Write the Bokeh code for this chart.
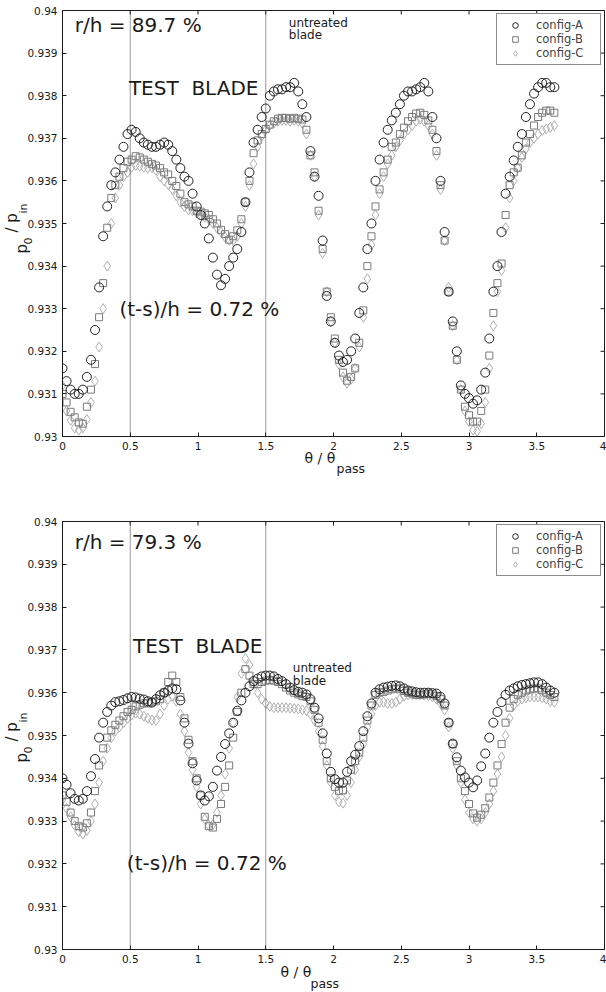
from math import pi
from bokeh.plotting import figure
from bokeh.models import (Span, Label, FixedTicker, CustomJSTickFormatter, Title,
                          Legend, LegendItem, Range1d)
from bokeh.layouts import column
from bokeh.embed import file_html
from bokeh.resources import INLINE

# ---------------- data ----------------
THETA = [0.00, 0.03, 0.06, 0.09, 0.12, 0.15, 0.18, 0.21, 0.24, 0.27,
         0.30, 0.33, 0.36, 0.39, 0.42, 0.45, 0.48, 0.51, 0.54, 0.57,
         0.60, 0.63, 0.66, 0.69, 0.72, 0.75, 0.78, 0.81, 0.84, 0.87,
         0.90, 0.93, 0.96, 0.99, 1.02, 1.05, 1.08, 1.11, 1.14, 1.17,
         1.20, 1.23, 1.26, 1.29, 1.32, 1.35, 1.38, 1.41, 1.44, 1.47,
         1.50, 1.53, 1.56, 1.59, 1.62, 1.65, 1.68, 1.71, 1.74, 1.77,
         1.80, 1.83, 1.86, 1.89, 1.92, 1.95, 1.98, 2.01, 2.04, 2.07,
         2.10, 2.13, 2.16, 2.19, 2.22, 2.25, 2.28, 2.31, 2.34, 2.37,
         2.40, 2.43, 2.46, 2.49, 2.52, 2.55, 2.58, 2.61, 2.64, 2.67,
         2.70, 2.73, 2.76, 2.79, 2.82, 2.85, 2.88, 2.91, 2.94, 2.97,
         3.00, 3.03, 3.06, 3.09, 3.12, 3.15, 3.18, 3.21, 3.24, 3.27,
         3.30, 3.33, 3.36, 3.39, 3.42, 3.45, 3.48, 3.51, 3.54, 3.57,
         3.60, 3.63]

# r/h = 89.7 %
TOP_A = [0.9316, 0.9313, 0.9311, 0.9310, 0.9310, 0.9311, 0.9314, 0.9318, 0.9325, 0.9335,
         0.9347, 0.9354, 0.9359, 0.9362, 0.9365, 0.9368, 0.9371, 0.9372, 0.93715, 0.9370,
         0.9369, 0.93685, 0.9368, 0.9368, 0.93685, 0.9369, 0.93685, 0.9367, 0.9365, 0.9363,
         0.9361, 0.9360, 0.9357, 0.9354, 0.9352, 0.9350, 0.93465, 0.9342, 0.9338, 0.93355,
         0.9337, 0.9340, 0.9342, 0.9344, 0.9348, 0.9355, 0.9362, 0.9369, 0.9372, 0.9375,
         0.9377, 0.9380, 0.9381, 0.93815, 0.93815, 0.9382, 0.9382, 0.9383, 0.9381, 0.9378,
         0.9375, 0.9367, 0.9361, 0.93565, 0.9346, 0.9333, 0.9327, 0.9322, 0.9319, 0.93175,
         0.9318, 0.9320, 0.9323, 0.9329, 0.9335, 0.9344, 0.9350, 0.9360, 0.9365, 0.9369,
         0.9372, 0.93742, 0.9376, 0.9378, 0.9380, 0.9381, 0.9381, 0.93815, 0.9382, 0.9383,
         0.9381, 0.9375, 0.9370, 0.9360, 0.9348, 0.9334, 0.9327, 0.9320, 0.9312, 0.9310,
         0.9309, 0.93077, 0.93085, 0.9311, 0.9315, 0.9323, 0.9334, 0.9340, 0.9348, 0.9357,
         0.9361, 0.93648, 0.9368, 0.9371, 0.9375, 0.9378, 0.93805, 0.9382, 0.9383, 0.9383,
         0.9382, 0.9382]
TOP_B = [0.9310, 0.9308, 0.93058, 0.93045, 0.93033, 0.9303, 0.9307, 0.9311, 0.9317, 0.9328,
         0.9336, 0.9349, 0.9356, 0.9359, 0.9361, 0.9363, 0.93645, 0.9365, 0.93658, 0.93655,
         0.9365, 0.93645, 0.9364, 0.93636, 0.9363, 0.9362, 0.93615, 0.9360, 0.93588, 0.9357,
         0.9355, 0.93545, 0.9354, 0.9353, 0.93528, 0.93524, 0.9352, 0.9351, 0.9350, 0.93485,
         0.93475, 0.93462, 0.9347, 0.93484, 0.9351, 0.9355, 0.9360, 0.93665, 0.93695, 0.9371,
         0.93722, 0.93732, 0.9374, 0.93746, 0.93748, 0.93748, 0.93746, 0.93748, 0.93746, 0.93744,
         0.9372, 0.9366, 0.9362, 0.9353, 0.9344, 0.9334, 0.9328, 0.9323, 0.9318, 0.9315,
         0.93131, 0.9314, 0.9316, 0.9322, 0.93296, 0.9340, 0.9347, 0.9354, 0.9358, 0.9362,
         0.9365, 0.9368, 0.9369, 0.9371, 0.93725, 0.9374, 0.9375, 0.93758, 0.9376, 0.93755,
         0.93742, 0.9372, 0.9367, 0.9359, 0.9346, 0.9334, 0.9326, 0.9318, 0.9311, 0.9307,
         0.9305, 0.93035, 0.93035, 0.9306, 0.9311, 0.9319, 0.9329, 0.9336, 0.93406, 0.9352,
         0.9359, 0.9362, 0.93631, 0.9366, 0.9369, 0.9371, 0.9373, 0.9375, 0.9376, 0.93765,
         0.93765, 0.9376]
TOP_C = [0.9312, 0.9306, 0.93038, 0.9302, 0.93015, 0.9302, 0.9304, 0.9308, 0.9313, 0.9321,
         0.9330, 0.9340, 0.9350, 0.9356, 0.9359, 0.9361, 0.9362, 0.93632, 0.93636, 0.93635,
         0.93632, 0.9363, 0.93631, 0.93625, 0.9361, 0.9360, 0.93592, 0.9358, 0.93565, 0.9355,
         0.9354, 0.93532, 0.9353, 0.93525, 0.9352, 0.93515, 0.9351, 0.9350, 0.9349, 0.9348,
         0.93468, 0.9346, 0.9346, 0.9347, 0.9350, 0.9354, 0.9359, 0.9364, 0.9368, 0.93705,
         0.9372, 0.9373, 0.93736, 0.9374, 0.93742, 0.93742, 0.9374, 0.93742, 0.9374, 0.93735,
         0.9371, 0.9366, 0.9361, 0.9352, 0.9343, 0.9334, 0.9327, 0.9322, 0.9317, 0.9314,
         0.93125, 0.93135, 0.9316, 0.9321, 0.9328, 0.9337, 0.9345, 0.9352, 0.9357, 0.9361,
         0.9364, 0.9366, 0.9368, 0.93695, 0.9371, 0.9372, 0.9373, 0.9374, 0.93745, 0.9374,
         0.9373, 0.9371, 0.9366, 0.9358, 0.9346, 0.9335, 0.9326, 0.9318, 0.9311, 0.9306,
         0.93035, 0.93015, 0.93012, 0.9303, 0.9308, 0.9316, 0.9326, 0.9334, 0.9339, 0.9349,
         0.9356, 0.9360, 0.9363, 0.93655, 0.93675, 0.9369, 0.9370, 0.9371, 0.93718, 0.93722,
         0.93726, 0.9373]

# r/h = 79.3 %
BOT_A = [0.9340, 0.93385, 0.93365, 0.93352, 0.93348, 0.93352, 0.9337, 0.93405, 0.93445, 0.93495,
         0.9353, 0.93555, 0.9357, 0.93578, 0.9358, 0.93583, 0.93587, 0.9359, 0.93589, 0.93586,
         0.93584, 0.9358, 0.93577, 0.93585, 0.93594, 0.9360, 0.93605, 0.9361, 0.93608, 0.93582,
         0.9353, 0.93481, 0.93435, 0.93395, 0.9336, 0.93348, 0.93358, 0.9338, 0.93418, 0.9345,
         0.9348, 0.93505, 0.9353, 0.93558, 0.93582, 0.9360, 0.93615, 0.93627, 0.93633, 0.93638,
         0.9364, 0.9364, 0.93638, 0.93632, 0.93627, 0.9362, 0.93612, 0.93606, 0.93602, 0.9360,
         0.93596, 0.93585, 0.93565, 0.9354, 0.93505, 0.93458, 0.93415, 0.93398, 0.9339, 0.9339,
         0.93415, 0.9344, 0.93455, 0.93475, 0.9351, 0.93545, 0.93575, 0.9360, 0.93608, 0.93612,
         0.93614, 0.93616, 0.93617, 0.93615, 0.9361, 0.93605, 0.93603, 0.93601, 0.9360, 0.9360,
         0.9360, 0.93599, 0.93598, 0.9359, 0.93575, 0.9353, 0.93481, 0.93449, 0.93418, 0.93402,
         0.9339, 0.93379, 0.93395, 0.93428, 0.93458, 0.93495, 0.9353, 0.93555, 0.93578, 0.93595,
         0.93605, 0.9361, 0.93615, 0.93618, 0.9362, 0.93622, 0.93624, 0.93624, 0.9362, 0.93612,
         0.93605, 0.9360]
BOT_B = [0.9336, 0.93345, 0.9332, 0.9330, 0.93288, 0.93285, 0.93295, 0.9332, 0.9337, 0.9343,
         0.9347, 0.93495, 0.93512, 0.93525, 0.93535, 0.93545, 0.93555, 0.9356, 0.93568, 0.93572,
         0.93575, 0.93575, 0.93578, 0.9358, 0.93585, 0.9360, 0.93625, 0.9364, 0.93625, 0.9359,
         0.9354, 0.9349, 0.9344, 0.9340, 0.9336, 0.9331, 0.93288, 0.93285, 0.93305, 0.9334,
         0.9338, 0.9343, 0.93495, 0.93555, 0.9360, 0.93655, 0.9364, 0.9362, 0.9362, 0.93625,
         0.93628, 0.9363, 0.93628, 0.93625, 0.9362, 0.93612, 0.93605, 0.9360, 0.93596, 0.93592,
         0.9359, 0.9358, 0.9356, 0.9353, 0.9349, 0.9344, 0.9340, 0.9338, 0.9337, 0.93372,
         0.93395, 0.9342, 0.9344, 0.9346, 0.93495, 0.93535, 0.9357, 0.93595, 0.9360, 0.93602,
         0.93605, 0.93608, 0.9361, 0.93608, 0.93604, 0.9360, 0.93598, 0.93595, 0.93595, 0.93596,
         0.93598, 0.93596, 0.93592, 0.93585, 0.9357, 0.9353, 0.9348, 0.9344, 0.9340, 0.9337,
         0.9334, 0.93318, 0.93308, 0.93315, 0.9333, 0.93355, 0.9339, 0.9343, 0.9348, 0.9353,
         0.93565, 0.93585, 0.93595, 0.9360, 0.93605, 0.93608, 0.9361, 0.9361, 0.93606, 0.9360,
         0.93595, 0.9359]
BOT_C = [0.9335, 0.9333, 0.9331, 0.9329, 0.93275, 0.9327, 0.93278, 0.9330, 0.9334, 0.9339,
         0.9344, 0.9347, 0.93495, 0.9351, 0.9352, 0.9353, 0.9354, 0.93548, 0.93552, 0.9355,
         0.93545, 0.9354, 0.93536, 0.93535, 0.9355, 0.9357, 0.93585, 0.93592, 0.9358, 0.9355,
         0.9351, 0.9346, 0.9342, 0.9338, 0.9334, 0.93305, 0.9329, 0.93292, 0.9332, 0.9336,
         0.9341, 0.9347, 0.9353, 0.9359, 0.93645, 0.9368, 0.93665, 0.9362, 0.9360, 0.93585,
         0.93575, 0.93568, 0.93565, 0.93565, 0.93565, 0.93565, 0.93564, 0.93563, 0.93562, 0.9356,
         0.93558, 0.9355, 0.93535, 0.9351, 0.93475, 0.9343, 0.9339, 0.9336, 0.93345, 0.93342,
         0.9336, 0.9339, 0.9342, 0.9345, 0.9348, 0.9352, 0.9355, 0.9357, 0.93578, 0.93578,
         0.93575, 0.93575, 0.93578, 0.93585, 0.93592, 0.93595, 0.93596, 0.93596, 0.93595, 0.93594,
         0.93593, 0.9359, 0.93585, 0.93575, 0.9356, 0.9352, 0.9347, 0.9343, 0.9339, 0.9335,
         0.9332, 0.93305, 0.9330, 0.93305, 0.9332, 0.9334, 0.9337, 0.9341, 0.9345, 0.9350,
         0.9354, 0.9357, 0.9358, 0.93585, 0.93588, 0.9359, 0.9359, 0.9359, 0.93588, 0.93585,
         0.9358, 0.93578]

SERIES = ["config-A", "config-B", "config-C"]
X_TICKS = [0, 0.5, 1, 1.5, 2, 2.5, 3, 3.5, 4]
Y_TICKS = [0.930, 0.931, 0.932, 0.933, 0.934, 0.935, 0.936, 0.937, 0.938, 0.939, 0.940]
BLADE_EDGES = [0.5, 1.5]

FONT = "DejaVu Sans"
INK = "#1a1a1a"


def side_title(p, side, text, size, offset, standoff):
    p.add_layout(Title(text=text, align="left", offset=offset, text_font=FONT,
                       text_font_size=size, text_font_style="normal", text_color=INK,
                       standoff=standoff), side)


def panel(A, B, C, rh_label, height, top, bottom, left, xlab, ylab, pos):
    p = figure(width=606, height=height, x_range=Range1d(X_TICKS[0], X_TICKS[-1]),
               y_range=Range1d(Y_TICKS[0], Y_TICKS[-1]),
               output_backend="svg", toolbar_location=None,
               min_border_left=left, min_border_right=2, min_border_top=top,
               min_border_bottom=bottom)
    p.xgrid.visible = False
    p.ygrid.visible = False
    p.outline_line_color = INK
    p.outline_line_width = 1
    p.background_fill_color = "white"
    p.border_fill_color = "white"

    xfmt = CustomJSTickFormatter(code="return String(parseFloat(tick.toFixed(2)))")
    yfmt = CustomJSTickFormatter(code="return String(parseFloat(tick.toFixed(3)))")
    for ax, tk, fm in ((p.xaxis[0], X_TICKS, xfmt), (p.yaxis[0], Y_TICKS, yfmt)):
        ax.ticker = FixedTicker(ticks=tk)
        ax.formatter = fm
        ax.major_tick_in = 4
        ax.major_tick_out = 0
        ax.minor_tick_line_color = None
        ax.major_tick_line_color = INK
        ax.axis_line_color = INK
        ax.major_label_text_font = FONT
        ax.major_label_text_font_size = "10.5px"
        ax.major_label_text_color = INK
        ax.major_label_standoff = 5

    # x-axis title: theta / theta  with subscript "pass"
    side_title(p, "below", "\u03b8 / \u03b8", "14px", xlab[0], xlab[2])
    side_title(p, "below", "pass", "12.5px", xlab[1], xlab[3])

    # y-axis title: p0 / pin, rotated, built from pieces (subscripts nearer the axis)
    side_title(p, "left", "0", "11px", ylab[1], -15)
    side_title(p, "left", "in", "11px", ylab[3], -11)
    side_title(p, "left", "p", "15px", ylab[0], -20)
    side_title(p, "left", "/ p", "15px", ylab[2], 0)

    # mirrored inner ticks on the right and top edges (half of each dash is clipped)
    p.scatter([X_TICKS[-1]] * len(Y_TICKS), Y_TICKS, marker="dash", size=8,
              line_color=INK, line_width=1)
    p.scatter(X_TICKS, [Y_TICKS[-1]] * len(X_TICKS), marker="dash", angle=pi / 2,
              size=8, line_color=INK, line_width=1)

    for xe in BLADE_EDGES:
        p.add_layout(Span(location=xe, dimension="height", line_color="#333333",
                          line_width=1, line_dash="1 1"))

    rC = p.scatter(THETA, C, marker="diamond", size=10, fill_color=None,
                   line_color="#b0b0b0", line_width=1)
    rB = p.scatter(THETA, B, marker="square", size=7, fill_color=None,
                   line_color="#7a7a7a", line_width=1)
    rA = p.scatter(THETA, A, marker="circle", size=9, fill_color=None,
                   line_color="#222222", line_width=1)

    leg = Legend(items=[LegendItem(label=SERIES[0], renderers=[rA]),
                        LegendItem(label=SERIES[1], renderers=[rB]),
                        LegendItem(label=SERIES[2], renderers=[rC])],
                 location="top_right", margin=3, padding=4, spacing=0,
                 label_text_font=FONT, label_text_font_size="11.5px",
                 label_height=14, glyph_height=14, glyph_width=28, label_standoff=7,
                 label_width=60, border_line_color=INK, border_line_width=1,
                 background_fill_alpha=1)
    p.add_layout(leg)

    p.add_layout(Label(x=0.09, y=pos["rh"], text=rh_label, text_font=FONT,
                       text_font_size="20px", text_color=INK))
    p.add_layout(Label(x=pos["tx"], y=pos["test"], text="TEST\u00a0 BLADE", text_font=FONT,
                       text_font_size="20px", text_color=INK))
    p.add_layout(Label(x=pos["ux"], y=pos["untreated"], text="untreated",
                       text_font=FONT, text_font_size="12px", text_color=INK))
    p.add_layout(Label(x=pos["ux"], y=pos["blade"], text="blade",
                       text_font=FONT, text_font_size="12px", text_color=INK))
    p.add_layout(Label(x=pos["sx"], y=pos["ts"], text="(t-s)/h = 0.72 %", text_font=FONT,
                       text_font_size="20px", text_color=INK))
    return p


p1 = panel(TOP_A, TOP_B, TOP_C, "r/h = 89.7 %", 480, 10, 44, 60,
           (242, 274, -10, -4), (183, 192, 204, 223),
           {"rh": 0.93937, "tx": 0.49, "test": 0.93789, "untreated": 0.93955,
            "blade": 0.93925, "ux": 1.67, "sx": 0.42, "ts": 0.93272})
p2 = panel(BOT_A, BOT_B, BOT_C, "r/h = 79.3 %", 512, 41, 43, 62,
           (218, 248, -7, -6), (187, 196, 208, 227),
           {"rh": 0.93925, "tx": 0.52, "test": 0.93680, "untreated": 0.93642,
            "blade": 0.93610, "ux": 1.70, "sx": 0.475, "ts": 0.93175})

layout = column(p1, p2, spacing=0)
open("out.html", "w").write(file_html(layout, INLINE))
